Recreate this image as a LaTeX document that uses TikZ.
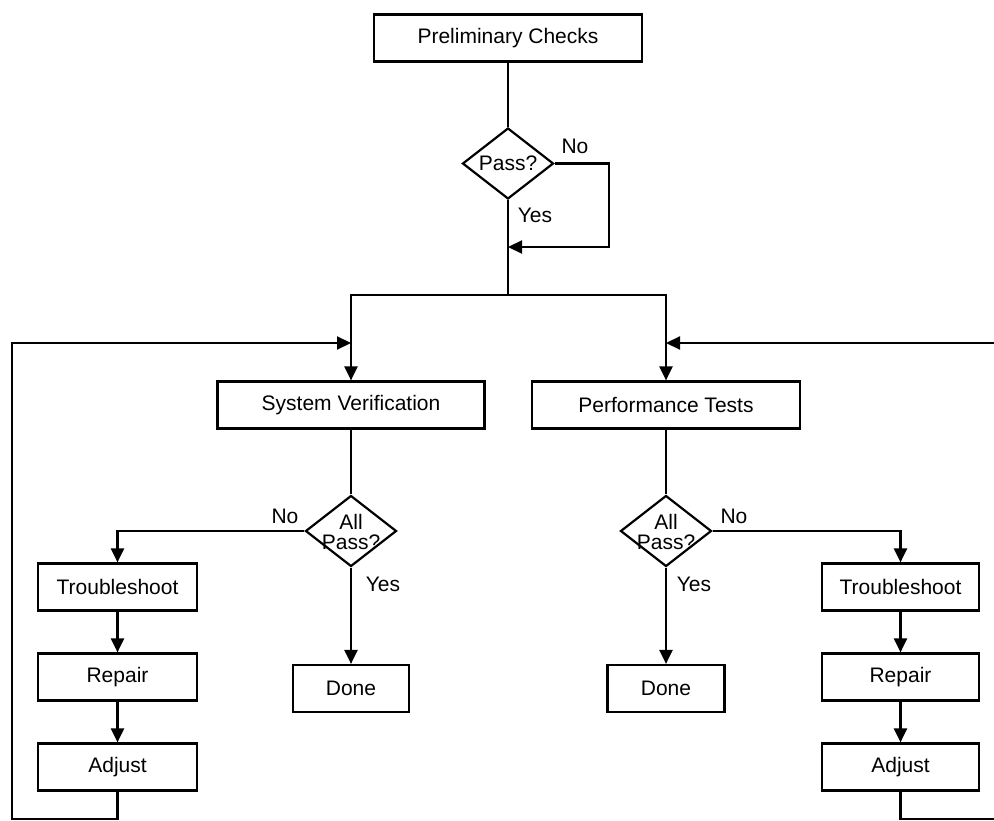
\documentclass[tikz,border=0pt]{standalone}
\usepackage{fontspec}
\setmainfont{Liberation Sans}
\usetikzlibrary{shapes.geometric,arrows.meta}
\begin{document}
\begin{tikzpicture}[x=1pt,y=-1pt,
  font=\fontsize{21}{20}\selectfont,
  line width=2.2pt,
  box/.style={draw,rectangle,inner sep=0pt,minimum height=47pt},
  dia/.style={draw,diamond,inner sep=0pt,minimum width=91pt,minimum height=71pt},
  arr/.style={-{Triangle[length=14pt,width=13pt]}},
  lbl/.style={anchor=base,inner sep=0pt}]
\useasboundingbox (0,0) rectangle (994,821);
% nodes
\node[box,minimum width=268pt] (pc) at (508,38) {Preliminary Checks};
\node[dia] (d1) at (508,163.5) {};
\node[align=center,inner sep=0pt] (t1) at (d1) {Pass?};
\node[box,minimum width=267pt] (sv) at (351,405) {System Verification};
\node[box,minimum width=268pt] (pt) at (666,405) {Performance Tests};
\node[dia] (d2) at (351,531) {};
\node[align=center,inner sep=0pt] (t2) at (351,532) {All\\Pass?};
\node[dia] (d3) at (666,531) {};
\node[align=center,inner sep=0pt] (t3) at (666,532) {All\\Pass?};
\node[box,minimum width=159pt] (tl) at (117.5,587) {Troubleshoot};
\node[box,minimum width=159pt] (rl) at (117.5,677) {Repair};
\node[box,minimum width=159pt] (al) at (117.5,767) {Adjust};
\node[box,minimum width=116pt] (dl) at (351,688.5) {Done};
\node[box,minimum width=117pt] (dr) at (666,688.5) {Done};
\node[box,minimum width=157pt] (tr) at (900.5,587) {Troubleshoot};
\node[box,minimum width=157pt] (rr) at (900.5,677) {Repair};
\node[box,minimum width=157pt] (ar) at (900.5,767) {Adjust};
% labels
\node[lbl] (lno1) at (575,154) {No};
\node[lbl] (lyes1) at (535,223) {Yes};
\node[lbl] (lno2) at (285,523) {No};
\node[lbl] (lyes2) at (383,591) {Yes};
\node[lbl] (lno3) at (734,523) {No};
\node[lbl] (lyes3) at (694,591) {Yes};
% coordinates
\coordinate (j1) at (508,247);
\coordinate (n1) at (609,247);
\coordinate (j2) at (508,295);
\coordinate (inl) at (351,343);
\coordinate (inr) at (666,343);
\coordinate (bl) at (117.5,819);
\coordinate (ll) at (12,343);
\coordinate (br) at (900.5,819);
\coordinate (rc) at (1000,819);
\coordinate (rt) at (1000,343);
% connectors
\draw (pc.south) -- (d1.north);
\draw[arr] (d1.east) -| (n1) -- (j1);
\draw (d1.south) -- (j2);
\draw[arr] (j2) -| (sv.north);
\draw[arr] (j2) -| (pt.north);
\draw (sv.south) -- (d2.north);
\draw (pt.south) -- (d3.north);
\draw[arr] (d2.west) -| (tl.north);
\draw[arr] (d2.south) -- (dl.north);
\draw[arr] (d3.east) -| (tr.north);
\draw[arr] (d3.south) -- (dr.north);
\draw[arr] (tl) -- (rl);
\draw[arr] (rl) -- (al);
\draw[arr] (tr) -- (rr);
\draw[arr] (rr) -- (ar);
\draw[arr] (al.south) -- (bl) -| (ll) -- (inl);
\draw[arr] (ar.south) -- (br) -- (rc) -- (rt) -- (inr);
\end{tikzpicture}
\end{document}
